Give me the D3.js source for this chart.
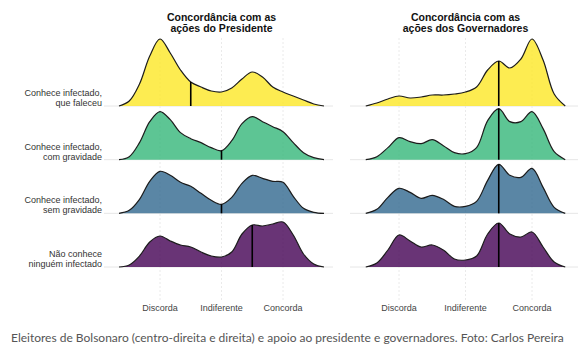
<!DOCTYPE html>
<html>
<head>
<meta charset="utf-8">
<script src="https://cdn.jsdelivr.net/npm/d3@7"></script>
<style>
  html, body { margin: 0; padding: 0; background: #fff; }
  svg { display: block; }
</style>
</head>
<body>
<svg id="chart" width="585" height="360"></svg>
<script>
// ---------------- DATA ----------------
const categories = [
  ["Conhece infectado,", "que faleceu"],
  ["Conhece infectado,", "com gravidade"],
  ["Conhece infectado,", "sem gravidade"],
  ["Não conhece", "ninguém infectado"]
];
const panelTitles = [
  ["Concordância com as", "ações do Presidente"],
  ["Concordância com as", "ações dos Governadores"]
];
const tickValues = [2, 5, 8];
const tickLabels = ["Discorda", "Indiferente", "Concorda"];

// density evaluation grid (0-10 agreement scale)
const gridX = [0, 0.5, 1, 1.5, 2, 2.5, 3, 3.5, 4, 4.5, 5, 5.5, 6, 6.5, 7, 7.5, 8, 8.5, 9, 9.5, 10];

// Presidente
const presFaleceu     = [0, .05, .22, .50, .67, .53, .36, .24, .19, .15, .14, .18, .27, .34, .29, .19, .14, .10, .06, .02, 0];
const presGravidade   = [0, .03, .17, .38, .48, .40, .27, .21, .17, .12, .09, .19, .36, .43, .38, .33, .28, .17, .07, .02, 0];
const presSemGrav     = [0, .03, .14, .32, .42, .38, .31, .27, .20, .13, .09, .16, .30, .38, .35, .32, .31, .17, .05, .01, 0];
const presNaoConhece  = [0, .02, .11, .25, .31, .26, .22, .20, .15, .11, .10, .15, .33, .42, .41, .43, .45, .32, .13, .03, 0];
const presMedians     = [3.5, 5, 5, 6.5];

// Governadores
const govFaleceu      = [null, 0, .03, .07, .10, .08, .09, .11, .11, .12, .14, .19, .36, .45, .38, .47, .67, .46, .12, 0, null];
const govGravidade    = [null, 0, .03, .12, .22, .18, .16, .20, .14, .07, .06, .12, .39, .51, .38, .38, .48, .31, .08, 0, null];
const govSemGrav      = [null, 0, .04, .16, .25, .21, .15, .18, .14, .07, .07, .12, .33, .49, .38, .36, .45, .26, .06, 0, null];
const govNaoConhece   = [null, 0, .04, .17, .32, .26, .20, .22, .17, .08, .07, .11, .33, .44, .33, .30, .35, .20, .05, 0, null];
const govMedians      = [6.5, 6.5, 6.5, 6.5];

const colors = ["#FDE725", "#35B779", "#31688E", "#440154"];
const caption = "Eleitores de Bolsonaro (centro-direita e direita) e apoio ao presidente e governadores. Foto: Carlos Pereira";

// ---------------- LAYOUT ----------------
const svg = d3.select("#chart");
const panels = [
  { title: panelTitles[0], series: [presFaleceu, presGravidade, presSemGrav, presNaoConhece], medians: presMedians,
    x: d3.scaleLinear().domain([2, 8]).range([160, 283]), gridL: 104, gridR: 333 },
  { title: panelTitles[1], series: [govFaleceu, govGravidade, govSemGrav, govNaoConhece], medians: govMedians,
    x: d3.scaleLinear().domain([2, 8]).range([399, 532]), gridL: 350, gridR: 578 }
];

const yBase = d3.scalePoint().domain(d3.range(categories.length)).range([106, 267]);
const h = d3.scaleLinear().domain([0, 1]).range([0, 100]);

const fontSans = "'Liberation Sans', Arial, Helvetica, sans-serif";

// category labels
const lab = svg.append("g");
categories.forEach((lines, i) => {
  const t = lab.append("text")
    .attr("text-anchor", "end")
    .attr("font-family", fontSans)
    .attr("font-size", 9)
    .attr("fill", "#333");
  lines.forEach((ln, j) => {
    t.append("tspan").attr("x", 102).attr("y", yBase(i) - 10 * (lines.length - 1 - j)).text(ln);
  });
});

panels.forEach(p => {
  const g = svg.append("g");
  const cx = (p.x(tickValues[0]) + p.x(tickValues[2])) / 2;

  // title
  p.title.forEach((ln, j) => {
    g.append("text")
      .attr("x", cx).attr("y", 21 + j * 11)
      .attr("text-anchor", "middle")
      .attr("font-family", fontSans)
      .attr("font-weight", "bold")
      .attr("font-size", 10.5)
      .attr("fill", "#111")
      .text(ln);
  });

  // vertical grid lines
  g.selectAll("line.vg").data(tickValues).join("line")
    .attr("x1", d => p.x(d)).attr("x2", d => p.x(d))
    .attr("y1", 38).attr("y2", 300)
    .attr("stroke", "#e4e4e4").attr("stroke-width", 0.8)
    .attr("stroke-dasharray", "2,2");

  // horizontal baselines
  g.selectAll("line.hg").data(d3.range(categories.length)).join("line")
    .attr("x1", p.gridL).attr("x2", p.gridR)
    .attr("y1", d => yBase(d)).attr("y2", d => yBase(d))
    .attr("stroke", "#e6e6e6").attr("stroke-width", 1);

  // tick labels
  g.selectAll("text.tl").data(tickValues).join("text")
    .attr("x", d => p.x(d)).attr("y", 311)
    .attr("text-anchor", "middle")
    .attr("font-family", fontSans)
    .attr("font-size", 9)
    .attr("fill", "#444")
    .text((d, i) => tickLabels[i]);

  // ridges
  p.series.forEach((vals, i) => {
    const pts = gridX.map((xv, k) => ({ x: xv, v: vals[k] })).filter(d => d.v !== null);
    const base = yBase(i);
    const area = d3.area()
      .x(d => p.x(d.x))
      .y0(base)
      .y1(d => base - h(d.v))
      .curve(d3.curveCatmullRom.alpha(0.5));
    const line = d3.line()
      .x(d => p.x(d.x))
      .y(d => base - h(d.v))
      .curve(d3.curveCatmullRom.alpha(0.5));

    g.append("path").attr("d", area(pts))
      .attr("fill", colors[i]).attr("fill-opacity", 0.8).attr("stroke", "none");
    const lp = g.append("path").attr("d", line(pts))
      .attr("fill", "none").attr("stroke", "#1c1c1c").attr("stroke-width", 1.2);

    // median: find the curve height at the median x
    const node = lp.node();
    const total = node.getTotalLength();
    const tx = p.x(p.medians[i]);
    let lo = 0, hi = total;
    for (let it = 0; it < 40; it++) {
      const mid = (lo + hi) / 2;
      if (node.getPointAtLength(mid).x < tx) lo = mid; else hi = mid;
    }
    const yTop = node.getPointAtLength((lo + hi) / 2).y;
    g.append("line")
      .attr("x1", tx).attr("x2", tx)
      .attr("y1", base).attr("y2", yTop)
      .attr("stroke", "#000").attr("stroke-width", 1.6);
  });
});

// caption
svg.append("text")
  .attr("x", 11).attr("y", 342)
  .attr("font-family", "Lato, 'Open Sans', sans-serif")
  .attr("font-size", 12)
  .attr("fill", "#555")
  .text(caption);
</script>
</body>
</html>
